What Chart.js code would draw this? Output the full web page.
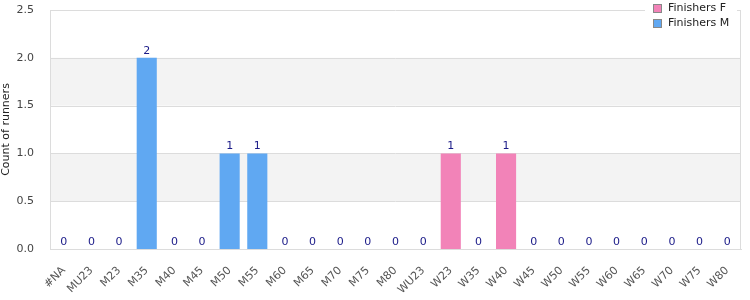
<!DOCTYPE html>
<html><head><meta charset="utf-8">
<script src="https://cdn.jsdelivr.net/npm/chart.js@4"></script>
<style>html,body{margin:0;padding:0;background:#fff}#wrap{width:750px;height:300px}</style>
</head><body><div id="wrap"><canvas id="c" width="750" height="300"></canvas></div>
<script>
const categories = ["#NA","MU23","M23","M35","M40","M45","M50","M55","M60","M65","M70","M75","M80","WU23","W23","W35","W40","W45","W50","W55","W60","W65","W70","W75","W80"];
const finishersF = [0,0,0,0,0,0,0,0,0,0,0,0,0,0,1,0,1,0,0,0,0,0,0,0,0];
const finishersM = [0,0,0,2,0,0,1,1,0,0,0,0,0,0,0,0,0,0,0,0,0,0,0,0,0];
const yTicks = [0,0.5,1.0,1.5,2.0,2.5];
const seriesNames = ["Finishers F","Finishers M"];
const seriesColors = ["#f283b8","#60a8f2"];

const FONT = "DejaVu Sans";

const bandsPlugin = {
  id:'bands',
  beforeDatasetsDraw(chart){
    const {ctx, chartArea:a, scales:{y}} = chart;
    ctx.save();
    ctx.fillStyle = '#f3f3f3';
    for (let i=0;i<yTicks.length-1;i++){
      if (i%2===1){
        const t = y.getPixelForValue(yTicks[i+1]);
        const b = y.getPixelForValue(yTicks[i]);
        ctx.fillRect(a.left, t, a.right-a.left, b-t);
      }
    }
    ctx.strokeStyle = '#dcdcdc';
    ctx.lineWidth = 1;
    yTicks.forEach(v=>{
      const p = Math.round(y.getPixelForValue(v))+0.5;
      ctx.beginPath(); ctx.moveTo(a.left,p); ctx.lineTo(a.right,p); ctx.stroke();
    });
    ctx.beginPath();
    ctx.moveTo(Math.round(a.left)+0.5, a.top); ctx.lineTo(Math.round(a.left)+0.5, a.bottom);
    ctx.moveTo(Math.round(a.right)-0.5, a.top); ctx.lineTo(Math.round(a.right)-0.5, a.bottom);
    ctx.stroke();
    ctx.restore();
  },
  afterDatasetsDraw(chart){
    const {ctx, scales:{x,y}} = chart;
    ctx.save();
    ctx.fillStyle = '#1a1a88';
    ctx.font = '11px "'+FONT+'"';
    ctx.textAlign = 'center';
    ctx.textBaseline = 'alphabetic';
    categories.forEach((c,i)=>{
      const total = finishersF[i] + finishersM[i];
      const px = x.getPixelForValue(i);
      const py = y.getPixelForValue(total);
      ctx.fillText(String(total), px, py-4);
    });
    // legend
    const lx = 645, lw = 92;
    ctx.fillStyle = '#fff';
    ctx.fillRect(lx, 0, lw, 31);
    ctx.font = '11px "'+FONT+'"';
    ctx.textAlign = 'left';
    ctx.textBaseline = 'middle';
    seriesNames.forEach((n,i)=>{
      const cy = 8 + i*15;
      ctx.fillStyle = seriesColors[i];
      ctx.fillRect(653, cy-4, 8, 8);
      ctx.strokeStyle = '#888';
      ctx.lineWidth = 1;
      ctx.strokeRect(653.5, cy-3.5, 8, 8);
      ctx.fillStyle = '#222';
      ctx.fillText(n, 668, cy);
    });
    ctx.restore();
  }
};

new Chart(document.getElementById('c'), {
  type:'bar',
  data:{
    labels: categories,
    datasets:[
      {label:seriesNames[0], data:finishersF, backgroundColor:seriesColors[0], barPercentage:0.75, categoryPercentage:0.97},
      {label:seriesNames[1], data:finishersM, backgroundColor:seriesColors[1], barPercentage:0.75, categoryPercentage:0.97}
    ]
  },
  options:{
    responsive:false,
    animation:false,
    layout:{padding:{top:10,right:9,left:0,bottom:0}},
    plugins:{legend:{display:false}, tooltip:{enabled:false}},
    scales:{
      x:{
        stacked:true,
        grid:{display:false},
        border:{display:true, color:'#dcdcdc'},
        ticks:{color:'#555', font:{family:FONT,size:11}, maxRotation:45, minRotation:45, autoSkip:false, padding:7},
        afterFit(s){ s.height = 51; s.paddingLeft = 0; s.paddingRight = 0; }
      },
      y:{
        stacked:true,
        min:0, max:2.5,
        grid:{display:false},
        border:{display:false},
        ticks:{stepSize:0.5, color:'#444', font:{family:FONT,size:11}, padding:8, callback:v=>Number(v).toFixed(1)},
        title:{display:true, text:'Count of runners', color:'#222', font:{family:FONT,size:11}, padding:{top:0,bottom:4}},
        afterFit(s){ s.width = 50; s.paddingTop = 0; s.paddingBottom = 0; }
      }
    }
  },
  plugins:[bandsPlugin]
});
</script>
</body></html>
